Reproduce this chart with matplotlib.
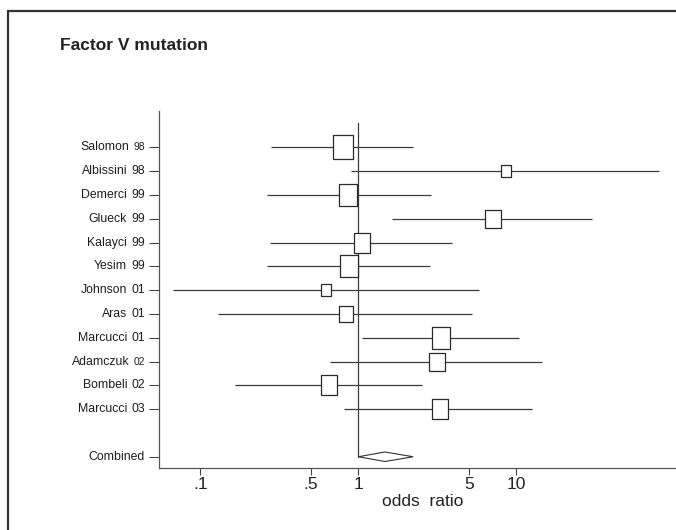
import numpy as np
import matplotlib
matplotlib.use("Agg")
import matplotlib.pyplot as plt
from matplotlib.patches import Rectangle, Polygon

plt.rcParams['font.family'] = ['Liberation Sans', 'DejaVu Sans']

# study data (odds ratio, 95% CI, weight %)
names = ["Salomon", "Albissini", "Demerci", "Glueck", "Kalayci", "Yesim",
         "Johnson", "Aras", "Marcucci", "Adamczuk", "Bombeli", "Marcucci"]
years = ["98", "98", "99", "99", "99", "99", "01", "01", "01", "02", "02", "03"]
small_year = [True, False, False, False, False, False, False, False, False, True, False, False]
odds = [0.80, 8.6, 0.865, 7.1, 1.05, 0.868, 0.626, 0.833, 3.33, 3.13, 0.656, 3.26]
ci_lo = [0.28, 0.90, 0.263, 1.62, 0.278, 0.263, 0.067, 0.13, 1.05, 0.657, 0.165, 0.813]
ci_hi = [2.22, 80.0, 2.90, 30.0, 3.92, 2.85, 5.77, 5.24, 10.4, 14.4, 2.54, 12.6]
weights = [13.0, 3.2, 11.1, 7.9, 8.2, 11.1, 3.2, 5.8, 11.6, 7.6, 8.4, 8.4]

comb_or, comb_lo, comb_hi = 1.47, 1.0, 2.22

xticks = [0.1, 0.5, 1, 5, 10]
xticklabels = [".1", ".5", "1", "5", "10"]

W, H = 676, 530
fig = plt.figure(figsize=(W / 100, H / 100), dpi=100)

# outer frame
fig.patches.append(Rectangle((8 / W, -0.2), 2, (H - 11) / H + 0.2, transform=fig.transFigure,
                             fill=False, lw=1.6, ec='#333333'))

fig.text(60 / W, 1 - 46 / H, "Factor V mutation", fontsize=12.5, fontweight='bold',
         color='#222222', va='center', ha='left')

ax = fig.add_axes([159 / W, (H - 467.7) / H, (686 - 159) / W, (467.7 - 111) / H])
ax.set_xscale('log')
ax.set_xlim(10 ** -1.261, 10 ** 2.072)
ax.set_ylim(14.46, -0.525)

rows = np.arange(1, len(names) + 1)
comb_row = len(names) + 2
line_col = '#3c3c3c'

# reference line at OR = 1
ax.plot([1, 1], [0, comb_row], color=line_col, lw=0.9)

for r, o, lo, hi, w in zip(rows, odds, ci_lo, ci_hi, weights):
    ax.plot([lo, hi], [r, r], color=line_col, lw=0.9, solid_capstyle='butt')
    h_px = 6.65 * np.sqrt(w)
    box = [(-0.41, -0.5), (0.41, -0.5), (0.41, 0.5), (-0.41, 0.5), (-0.41, -0.5)]
    ax.plot([o], [r], marker=box, markersize=h_px * 0.72, mfc='white', mec='#2a2a2a',
            mew=0.9, ls='none', zorder=3)

# combined diamond
dh = 0.2
ax.add_patch(Polygon([(comb_lo, comb_row), (comb_or, comb_row - dh), (comb_hi, comb_row),
                      (comb_or, comb_row + dh)], closed=True, fill=False, ec='#333333', lw=0.8))

ax.set_xticks(xticks)
ax.set_xticklabels(xticklabels)
ax.xaxis.set_minor_locator(matplotlib.ticker.NullLocator())
ax.tick_params(axis='x', length=5, width=0.8, color='#444444', labelsize=12.5, pad=2,
               labelcolor='#222222')
ax.set_xlabel("odds  ratio", fontsize=12.5, color='#222222', labelpad=1)

ax.set_yticks(list(rows) + [comb_row])
ax.set_yticklabels([])
ax.tick_params(axis='y', length=7, width=0.8, color='#444444')

for r, nm, yr, sm in zip(rows, names, years, small_year):
    t = ax.annotate(yr, xy=(0, r), xycoords=('axes fraction', 'data'), xytext=(-14 * 0.72, 0),
                    textcoords='offset points', ha='right', va='center',
                    fontsize=7.4 if sm else 8.8, color='#1e1e1e')
    ax.annotate(nm, xy=(0, 0.5), xycoords=t, xytext=(-3, 0), textcoords='offset points',
                ha='right', va='center', fontsize=8.8, color='#1e1e1e')
ax.annotate("Combined", xy=(0, comb_row), xycoords=('axes fraction', 'data'),
            xytext=(-14 * 0.72, 0), textcoords='offset points', ha='right', va='center',
            fontsize=8.8, color='#1e1e1e')

for s in ['top', 'right']:
    ax.spines[s].set_visible(False)
for s in ['left', 'bottom']:
    ax.spines[s].set_color('#555555')
    ax.spines[s].set_linewidth(0.9)

fig.savefig("out.png", dpi=100)
